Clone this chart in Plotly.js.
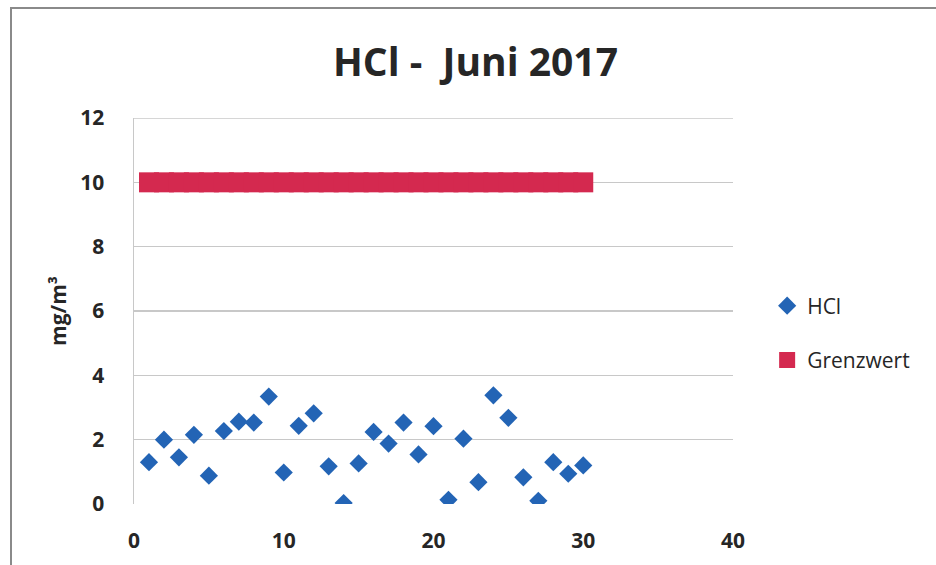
<!DOCTYPE html>
<html>
<head>
<meta charset="utf-8">
<script src="https://cdn.plot.ly/plotly-3.0.1.min.js"></script>
<style>
  html, body { margin: 0; padding: 0; background: #fff; }
  #frame { position: absolute; left: 10px; top: 7px; width: 940px; height: 570px;
           border-left: 2px solid #8a8a8a; border-top: 2px solid #8a8a8a; }
  #chart { position: absolute; left: 0; top: 0; width: 936px; height: 565px; }
</style>
</head>
<body>
<div id="frame"></div>
<div id="chart"></div>
<script>
const days = [1,2,3,4,5,6,7,8,9,10,11,12,13,14,15,16,17,18,19,20,21,22,23,24,25,26,27,28,29,30];
const hcl = [1.3,2.0,1.45,2.15,0.88,2.27,2.56,2.53,3.34,0.98,2.43,2.82,1.17,0.03,1.26,2.24,1.88,2.53,1.54,2.42,0.13,2.03,0.68,3.38,2.68,0.83,0.10,1.30,0.94,1.20];
const grenzwert = [10,10,10,10,10,10,10,10,10,10,10,10,10,10,10,10,10,10,10,10,10,10,10,10,10,10,10,10,10,10];
const xTicks = [0,10,20,30,40];
const yTicks = [0,2,4,6,8,10,12];

const FONT = 'Open Sans, sans-serif';
const TXT = '#262626';

const traces = [
  {
    x: days, y: hcl, name: 'HCl', type: 'scatter', mode: 'markers',
    legendgroup: 'a',
    marker: { symbol: 'diamond', size: 14, color: '#2364b5' }
  },
  {
    x: days, y: grenzwert, name: 'Grenzwert', type: 'scatter', mode: 'markers',
    legendgroup: 'b',
    marker: { symbol: 'square', size: 20, color: '#d4294f' }
  }
];

const layout = {
  width: 936, height: 565,
  margin: { l: 134, r: 203, t: 118, b: 61 },
  paper_bgcolor: 'rgba(0,0,0,0)',
  plot_bgcolor: 'rgba(0,0,0,0)',
  font: { family: FONT, color: TXT },
  title: {
    text: '<b>HCl -  Juni 2017</b>',
    font: { family: FONT, size: 39, color: TXT },
    x: 0.508, xanchor: 'center', y: 0.89, yanchor: 'middle'
  },
  xaxis: {
    range: [0, 40], tickvals: xTicks, ticktext: xTicks.map(v => '<b>' + v + '</b>'),
    showgrid: false, zeroline: false, showline: false, ticks: '',
    tickfont: { family: FONT, size: 21, color: TXT },
    ticklabelstandoff: 22
  },
  yaxis: {
    range: [0, 12], tickvals: yTicks, ticktext: yTicks.map(v => '<b>' + v + '</b>'),
    showgrid: true, gridcolor: '#c8c8c8', gridwidth: 1.5,
    zeroline: false, showline: true, linecolor: '#c8c8c8', linewidth: 1.5,
    ticks: '', tickfont: { family: FONT, size: 21, color: TXT },
    ticklabelstandoff: 24,
    title: { text: '<b>mg/m³</b>', font: { family: FONT, size: 21, color: TXT }, standoff: 8 }
  },
  shapes: [
    { type: 'line', xref: 'paper', yref: 'y', x0: 0, x1: 1, y0: 12, y1: 12,
      line: { color: '#c8c8c8', width: 1.5 } }
  ],
  showlegend: true,
  legend: {
    x: 1.057, xanchor: 'left', y: 0.443, yanchor: 'middle',
    font: { family: FONT, size: 21, color: TXT },
    traceorder: 'grouped', tracegroupgap: 24,
    itemwidth: 30, bgcolor: 'rgba(0,0,0,0)'
  }
};

Plotly.newPlot('chart', traces, layout, { displayModeBar: false, staticPlot: true });
</script>
</body>
</html>
